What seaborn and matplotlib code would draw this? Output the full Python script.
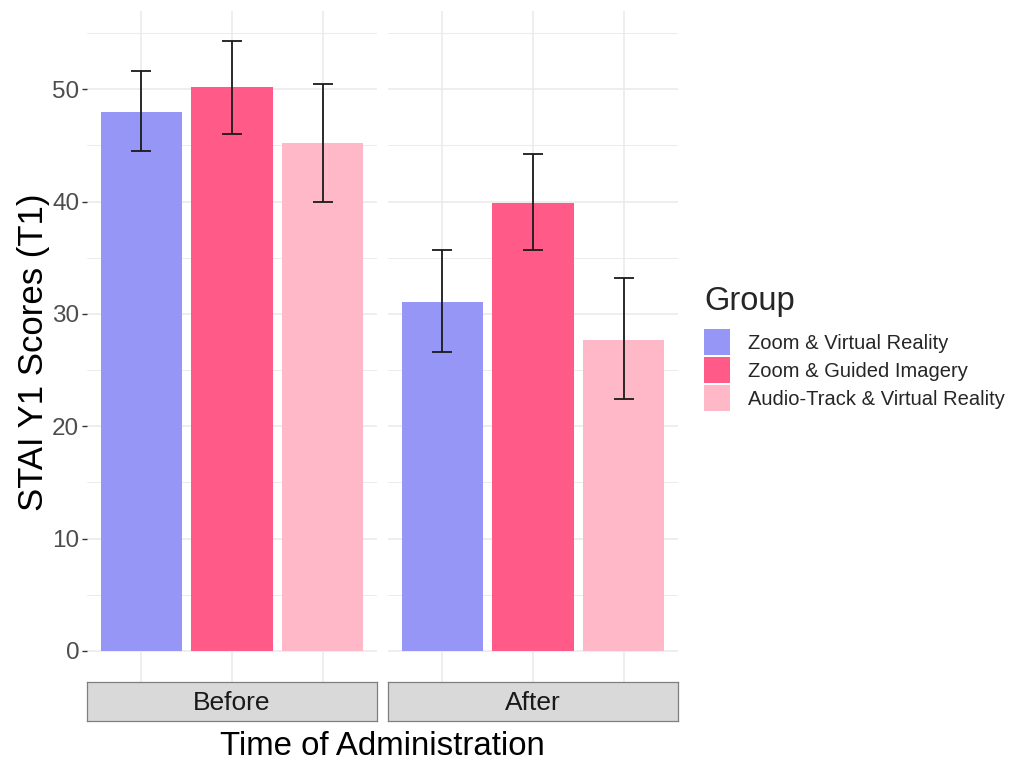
import matplotlib
matplotlib.use("Agg")
import matplotlib.pyplot as plt
from matplotlib.patches import Patch
from matplotlib.ticker import MultipleLocator
import numpy as np
import pandas as pd
import seaborn as sns

# ---- data -------------------------------------------------------------
times = ["Before", "After"]
groups = ["Zoom & Virtual Reality", "Zoom & Guided Imagery",
          "Audio-Track & Virtual Reality"]
mean_before = [48.0, 50.2, 45.2]
mean_after = [31.1, 39.9, 27.7]
lower_before = [44.5, 46.0, 40.0]
upper_before = [51.6, 54.3, 50.5]
lower_after = [26.6, 35.7, 22.4]
upper_after = [35.7, 44.2, 33.2]
y_ticks = [0, 10, 20, 30, 40, 50]

palette = ["#9696F6", "#FF5A88", "#FFB8C8"]

df = pd.DataFrame({
    "Time": np.repeat(times, len(groups)),
    "Group": groups * len(times),
    "Score": mean_before + mean_after,
    "Lower": lower_before + lower_after,
    "Upper": upper_before + upper_after,
})

# ---- figure setup -----------------------------------------------------
sns.set_style("white")
plt.rcParams["font.family"] = ["Liberation Sans", "DejaVu Sans"]

W, H = 1011, 762
fig = plt.figure(figsize=(W / 100, H / 100), dpi=100)
fig.patch.set_facecolor("white")

panel_top, panel_bottom = 10.5, 681.5
panel_x = [(87, 377), (388, 678)]
strip_top, strip_bottom = 682, 721

grid_col = "#EBEBEB"

for i, t in enumerate(times):
    x0, x1 = panel_x[i]
    ax = fig.add_axes([x0 / W, 1 - panel_bottom / H, (x1 - x0) / W,
                       (panel_bottom - panel_top) / H])
    sub = df[df["Time"] == t]
    sns.barplot(data=sub, x="Group", y="Score", hue="Group", order=groups,
                hue_order=groups, palette=palette, saturation=1, width=0.9,
                linewidth=0, errorbar=None, legend=False, ax=ax, zorder=2)
    pos = np.arange(len(groups))
    s = sub["Score"].to_numpy()
    ax.errorbar(pos, s, yerr=[s - sub["Lower"].to_numpy(),
                              sub["Upper"].to_numpy() - s],
                fmt="none", ecolor="#1A1A1A", elinewidth=1.3,
                capsize=7.5, capthick=1.3, zorder=3)

    ax.set_xlim(-0.6, 2.6)
    ax.set_ylim(-2.72, 57.0)
    ax.set_facecolor("white")
    for sp in ax.spines.values():
        sp.set_visible(False)

    ax.yaxis.set_major_locator(MultipleLocator(10))
    ax.yaxis.set_minor_locator(MultipleLocator(5))
    ax.set_yticks(y_ticks)
    ax.grid(True, which="major", axis="both", color=grid_col, lw=1.2, zorder=0)
    ax.grid(True, which="minor", axis="y", color=grid_col, lw=0.7, zorder=0)
    ax.set_axisbelow(True)

    ax.set_xlabel("")
    ax.set_ylabel("")
    ax.tick_params(axis="x", bottom=False, labelbottom=False)
    ax.tick_params(axis="y", which="minor", left=False)
    if i == 0:
        ax.tick_params(axis="y", which="major", left=True, length=3.5,
                       width=1.0, color="#333333", labelsize=17.5,
                       labelcolor="#4D4D4D", pad=2)
    else:
        ax.tick_params(axis="y", which="major", left=False, labelleft=False)

    # facet strip beneath each panel
    sax = fig.add_axes([x0 / W, 1 - strip_bottom / H, (x1 - x0) / W,
                        (strip_bottom - strip_top) / H])
    sax.set_facecolor("#D9D9D9")
    sax.set_xticks([])
    sax.set_yticks([])
    for sp in sax.spines.values():
        sp.set_color("#7F7F7F")
        sp.set_linewidth(0.9)
    sax.text(0.5, 0.46, t, ha="center", va="center", fontsize=19,
             color="#1A1A1A", transform=sax.transAxes)

# axis titles
fig.text((87 + 678) / 2 / W, 1 - 755 / H, "Time of Administration",
         ha="center", va="baseline", fontsize=23.8, color="black")
fig.text(34 / W, 1 - 352 / H, "STAI Y1 Scores (T1)", rotation=90,
         ha="center", va="center", fontsize=25, color="black")

# legend
handles = [Patch(facecolor=c, edgecolor="none") for c in palette]
leg = fig.legend(handles, groups, title="Group", loc="upper left",
                 bbox_to_anchor=(704 / W, 1 - 286 / H), frameon=False,
                 fontsize=14.5, title_fontsize=23.5, handlelength=1.3,
                 handleheight=1.6, labelspacing=0.1, handletextpad=0.9,
                 borderpad=0, borderaxespad=0, alignment="left")
leg._legend_box.sep = 9

fig.savefig("out.png", dpi=100, facecolor="white")
